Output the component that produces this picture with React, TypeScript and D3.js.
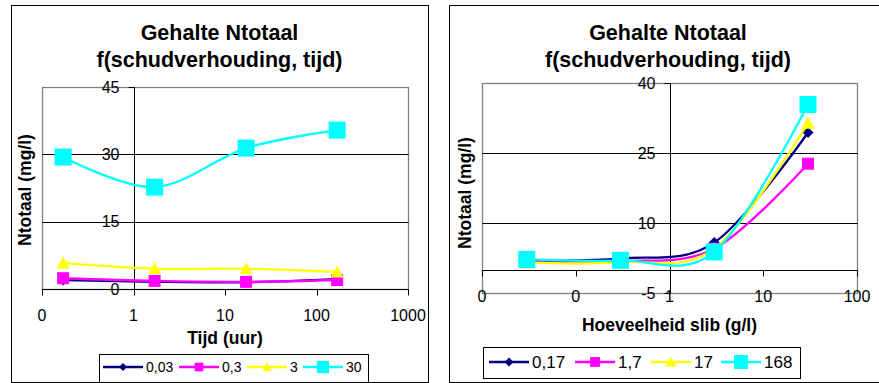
import React from "react";
import * as d3 from "d3";

// ---------- data ----------
const times = [0.17, 1.7, 17, 168]; // hours
const sludge = [0.03, 0.3, 3, 30]; // g/l
const sludgeLabels = ["0,03", "0,3", "3", "30"];
const timeLabels = ["0,17", "1,7", "17", "168"];
// Ntotaal (mg/l) per sludge amount, at each time
const nSludge003 = [2.0, 1.6, 1.5, 2.2];
const nSludge03 = [2.4, 1.8, 1.6, 2.0];
const nSludge3 = [5.8, 4.5, 4.5, 3.8];
const nSludge30 = [29.4, 22.7, 31.4, 35.4];
const nBySludge = [nSludge003, nSludge03, nSludge3, nSludge30];

const leftXTicks = [0.1, 1, 10, 100, 1000];
const leftXTickLabels = ["0", "1", "10", "100", "1000"];
const leftYTicks = [0, 15, 30, 45];
const rightXTicks = [0.01, 0.1, 1, 10, 100];
const rightXTickLabels = ["0", "0", "1", "10", "100"];
const rightYTicks = [-5, 10, 25, 40];

const titleLines = ["Gehalte Ntotaal", "f(schudverhouding, tijd)"];

// ---------- styles ----------
const colors = ["#000080", "#FF00FF", "#FFFF00", "#00FFFF"];
const markers = ["diamond", "square", "triangle", "square"];
const markerSizes = [11, 12, 13, 17];
const FONT = "'Liberation Sans', Arial, Helvetica, sans-serif";

type Series = { name: string; color: string; marker: string; size: number; pts: [number, number][] };

const leftSeries: Series[] = nBySludge.map((vals, i) => ({
  name: sludgeLabels[i],
  color: colors[i],
  marker: markers[i],
  size: markerSizes[i],
  pts: vals.map((v, j) => [times[j], v] as [number, number]),
}));

const rightSeries: Series[] = times.map((_, j) => ({
  name: timeLabels[j],
  color: colors[j],
  marker: markers[j],
  size: markerSizes[j],
  pts: nBySludge.map((vals, i) => [sludge[i], vals[j]] as [number, number]),
}));

function Marker({ type, cx, cy, size, color }: { type: string; cx: number; cy: number; size: number; color: string }) {
  const s = size / 2;
  if (type === "diamond")
    return <path d={`M${cx},${cy - s}L${cx + s},${cy}L${cx},${cy + s}L${cx - s},${cy}Z`} fill={color} />;
  if (type === "triangle")
    return <path d={`M${cx},${cy - s}L${cx + s},${cy + s * 0.85}L${cx - s},${cy + s * 0.85}Z`} fill={color} />;
  return <rect x={cx - s} y={cy - s} width={size} height={size} fill={color} />;
}

type Cfg = {
  frame: { x: number; y: number; w: number; h: number };
  titleX: number;
  titleY: number[];
  titleSize: number;
  plot: { left: number; right: number; top: number; bottom: number };
  xDomain: [number, number];
  yDomain: [number, number];
  xTicks: number[];
  xTickLabels: string[];
  yTicks: number[];
  yAxisAt: number;
  xAxisAt: number;
  xTitle: string;
  xTitleY: number;
  yTitle: string;
  yTitleX: number;
  yTitleY: number;
  series: Series[];
  legend: { x: number; y: number; w: number; h: number; cy: number; items: number[]; fontSize: number; markerScale: number };
};

const px = (v: number) => Math.round(v) + 0.5;

function Chart({ cfg }: { cfg: Cfg }) {
  const { plot } = cfg;
  const x = d3.scaleLog().domain(cfg.xDomain).range([plot.left, plot.right]);
  const y = d3.scaleLinear().domain(cfg.yDomain).range([plot.bottom, plot.top]);
  const ax = px(x(cfg.yAxisAt));
  const ay = px(y(cfg.xAxisAt));
  const line = d3
    .line<[number, number]>()
    .x((d) => x(d[0]))
    .y((d) => y(d[1]))
    .curve(d3.curveCatmullRom.alpha(0));
  const lg = cfg.legend;
  return (
    <g>
      <rect x={cfg.frame.x + 0.5} y={cfg.frame.y + 0.5} width={cfg.frame.w} height={cfg.frame.h} fill="#fff" stroke="#000" strokeWidth={1} />
      {titleLines.map((t, i) => (
        <text key={i} x={cfg.titleX} y={cfg.titleY[i]} textAnchor="middle" fontFamily={FONT} fontWeight="bold" fontSize={cfg.titleSize}>
          {t}
        </text>
      ))}
      {/* plot area */}
      <rect
        x={px(plot.left)}
        y={px(plot.top)}
        width={Math.round(plot.right) - Math.round(plot.left)}
        height={Math.round(plot.bottom) - Math.round(plot.top)}
        fill="#fff"
        stroke="#808080"
        strokeWidth={1.3}
      />
      {/* gridlines */}
      {cfg.yTicks
        .filter((t) => t !== cfg.yDomain[0] && t !== cfg.yDomain[1] && t !== cfg.xAxisAt)
        .map((t) => (
          <line key={t} x1={px(plot.left)} x2={px(plot.right)} y1={px(y(t))} y2={px(y(t))} stroke="#000" strokeWidth={1} />
        ))}
      {/* axes */}
      <line x1={px(plot.left)} x2={px(plot.right)} y1={ay} y2={ay} stroke="#000" strokeWidth={1} />
      <line x1={ax} x2={ax} y1={px(plot.top)} y2={px(plot.bottom)} stroke="#000" strokeWidth={1} />
      {cfg.xTicks.map((t) => (
        <line key={"xt" + t} x1={px(x(t))} x2={px(x(t))} y1={ay} y2={ay + 6} stroke="#000" strokeWidth={1} />
      ))}
      {cfg.yTicks.map((t) => (
        <line key={"yt" + t} x1={ax - 6} x2={ax} y1={px(y(t))} y2={px(y(t))} stroke="#000" strokeWidth={1} />
      ))}
      {cfg.xTicks.map((t, i) => (
        <text key={"xl" + t} x={x(t)} y={ay + 26} dy="0.36em" textAnchor="middle" fontFamily={FONT} fontSize={16}>
          {cfg.xTickLabels[i]}
        </text>
      ))}
      {cfg.yTicks.map((t) => (
        <text key={"yl" + t} x={ax - 15} y={y(t)} dy="0.36em" textAnchor="end" fontFamily={FONT} fontSize={16}>
          {String(t)}
        </text>
      ))}
      {/* titles */}
      <text x={(plot.left + plot.right) / 2} y={cfg.xTitleY} textAnchor="middle" fontFamily={FONT} fontWeight="bold" fontSize={17.5}>
        {cfg.xTitle}
      </text>
      <text
        transform={`translate(${cfg.yTitleX},${cfg.yTitleY}) rotate(-90)`}
        dy="0.36em"
        textAnchor="middle"
        fontFamily={FONT}
        fontWeight="bold"
        fontSize={17.5}
      >
        {cfg.yTitle}
      </text>
      {/* series */}
      {cfg.series.map((s) => (
        <g key={s.name}>
          <path d={line(s.pts) || ""} fill="none" stroke={s.color} strokeWidth={2.3} />
          {s.pts.map((p, k) => (
            <Marker key={k} type={s.marker} cx={x(p[0])} cy={y(p[1])} size={s.size} color={s.color} />
          ))}
        </g>
      ))}
      {/* legend */}
      <rect x={lg.x + 0.5} y={lg.y + 0.5} width={lg.w} height={lg.h} fill="#fff" stroke="#000" strokeWidth={1} />
      {cfg.series.map((s, i) => {
        const lx = lg.items[i];
        return (
          <g key={"lg" + s.name}>
            <line x1={lx} x2={lx + 40} y1={lg.cy} y2={lg.cy} stroke={s.color} strokeWidth={2.3} />
            <Marker type={s.marker} cx={lx + 20} cy={lg.cy} size={s.size * lg.markerScale} color={s.color} />
            <text x={lx + 43} y={lg.cy} dy="0.36em" fontFamily={FONT} fontSize={lg.fontSize}>
              {s.name}
            </text>
          </g>
        );
      })}
    </g>
  );
}

const leftCfg: Cfg = {
  frame: { x: 11, y: 5, w: 417, h: 377 },
  titleX: 219.5,
  titleY: [40, 67],
  titleSize: 21.5,
  plot: { left: 42, right: 408, top: 87, bottom: 289 },
  xDomain: [0.1, 1000],
  yDomain: [0, 45],
  xTicks: leftXTicks,
  xTickLabels: leftXTickLabels,
  yTicks: leftYTicks,
  yAxisAt: 1,
  xAxisAt: 0,
  xTitle: "Tijd (uur)",
  xTitleY: 344,
  yTitle: "Ntotaal (mg/l)",
  yTitleX: 25,
  yTitleY: 190,
  series: leftSeries,
  legend: { x: 99, y: 354, w: 269, h: 28, cy: 367, items: [103, 179, 247, 303], fontSize: 14, markerScale: 0.72 },
};

const rightCfg: Cfg = {
  frame: { x: 449, y: 5, w: 440, h: 377 },
  titleX: 668,
  titleY: [40, 67],
  titleSize: 21.5,
  plot: { left: 482, right: 857, top: 83, bottom: 293 },
  xDomain: [0.01, 100],
  yDomain: [-5, 40],
  xTicks: rightXTicks,
  xTickLabels: rightXTickLabels,
  yTicks: rightYTicks,
  yAxisAt: 1,
  xAxisAt: 0,
  xTitle: "Hoeveelheid slib (g/l)",
  xTitleY: 331,
  yTitle: "Ntotaal (mg/l)",
  yTitleX: 465,
  yTitleY: 193,
  series: rightSeries,
  legend: { x: 483, y: 347, w: 317, h: 31, cy: 362, items: [489, 575, 651, 721], fontSize: 17, markerScale: 0.82 },
};

export default function App() {
  return (
    <svg
      width={879}
      height={383}
      viewBox="0 0 879 383"
      style={{ position: "fixed", left: 0, top: 0, background: "#fff" }}
    >
      <rect x={0} y={0} width={879} height={383} fill="#fff" />
      <Chart cfg={leftCfg} />
      <Chart cfg={rightCfg} />
    </svg>
  );
}
